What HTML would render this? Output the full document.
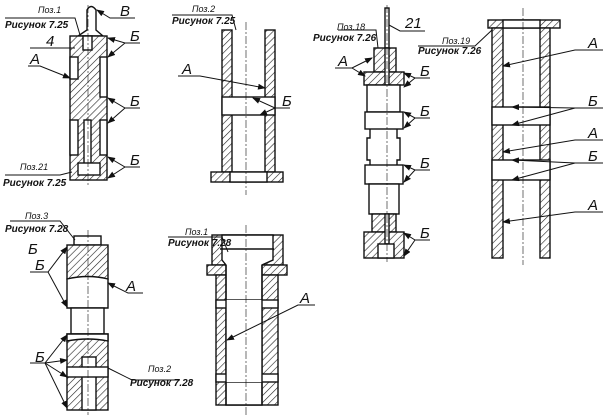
<!DOCTYPE html>
<html><head><meta charset="utf-8"><style>
body{margin:0;background:#fff}
svg{display:block}
text{font-family:"Liberation Sans",sans-serif;font-style:italic;fill:#111}
.t{font-size:15px}
.s{font-size:9px}
.b{font-size:10px;font-weight:bold}
</style></head><body>
<svg width="605" height="419" viewBox="0 0 605 419" xmlns="http://www.w3.org/2000/svg">
<defs>
<pattern id="h" width="5" height="5" patternUnits="userSpaceOnUse" patternTransform="rotate(45)">
<rect width="5" height="5" fill="#fff"/><line x1="0" y1="0" x2="0" y2="5" stroke="#222" stroke-width="1.2"/></pattern>
<marker id="a" markerWidth="8" markerHeight="6" refX="7" refY="3" orient="auto" markerUnits="userSpaceOnUse"><path d="M0,0 L8,3 L0,6z" fill="#111"/></marker>
</defs>
<g stroke="#111" stroke-width="1.4" fill="none">
<!-- Fig 1 -->
<path d="M87,30 L87,10 Q91,3 96,10 L96,30 L103,36 L78,36z" fill="#fff"/>
<rect x="70" y="36" width="37" height="144" fill="url(#h)"/>
<rect x="70" y="57" width="8" height="22" fill="#fff"/>
<rect x="100" y="57" width="7" height="40" fill="#fff"/>
<rect x="70" y="120" width="8" height="35" fill="#fff"/>
<rect x="100" y="120" width="7" height="35" fill="#fff"/>
<rect x="83" y="36" width="9" height="14" fill="#fff"/>
<rect x="84" y="120" width="7" height="45" fill="#fff"/>
<rect x="78" y="163" width="22" height="12" fill="#fff"/>
<line x1="88" y1="5" x2="88" y2="185" stroke-dasharray="8,2,2,2" stroke-width="0.6"/>
<!-- Fig 2 -->
<rect x="222" y="30" width="10" height="142" fill="url(#h)"/>
<rect x="265" y="30" width="10" height="142" fill="url(#h)"/>
<rect x="222" y="97" width="53" height="18" fill="#fff"/>
<rect x="211" y="172" width="72" height="10" fill="url(#h)"/>
<rect x="230" y="172" width="37" height="10" fill="#fff"/>
<line x1="246" y1="22" x2="246" y2="195" stroke-dasharray="8,2,2,2" stroke-width="0.6"/>
<!-- Fig 3 -->
<rect x="385" y="8" width="4" height="64" fill="#fff"/>
<rect x="374" y="48" width="22" height="24" fill="url(#h)"/>
<rect x="364" y="72" width="40" height="13" fill="url(#h)"/>
<rect x="385" y="48" width="4" height="37" fill="#fff"/>
<rect x="367" y="85" width="33" height="27" fill="#fff"/>
<rect x="365" y="112" width="38" height="17" fill="#fff"/>
<path d="M370,129 L370,138 L367,138 L367,160 L370,160 L370,165 M397,129 L397,138 L400,138 L400,160 L397,160 L397,165" />
<rect x="365" y="165" width="38" height="19" fill="#fff"/>
<rect x="369" y="184" width="30" height="30" fill="#fff"/>
<rect x="372" y="214" width="24" height="18" fill="url(#h)"/>
<rect x="364" y="232" width="40" height="26" fill="url(#h)"/>
<rect x="385" y="214" width="4" height="30" fill="#fff"/>
<rect x="378" y="244" width="16" height="14" fill="#fff"/>
<line x1="387" y1="5" x2="387" y2="262" stroke-dasharray="8,2,2,2" stroke-width="0.6"/>
<!-- Fig 4 -->
<rect x="488" y="20" width="72" height="8" fill="url(#h)"/>
<rect x="503" y="20" width="37" height="8" fill="#fff"/>
<rect x="492" y="28" width="11" height="230" fill="url(#h)"/>
<rect x="540" y="28" width="10" height="230" fill="url(#h)"/>
<rect x="492" y="107" width="58" height="18" fill="#fff"/>
<rect x="492" y="160" width="58" height="20" fill="#fff"/>
<line x1="523" y1="8" x2="523" y2="265" stroke-dasharray="8,2,2,2" stroke-width="0.6"/>
<!-- Fig 5 -->
<rect x="74" y="236" width="27" height="9" fill="#fff"/>
<rect x="67" y="245" width="41" height="34" fill="url(#h)"/>
<path d="M67,279 Q88,274 108,279 L108,308 L67,308z" fill="#fff"/>
<rect x="71" y="308" width="33" height="26" fill="#fff"/>
<rect x="67" y="334" width="41" height="76" fill="url(#h)"/>
<path d="M67,334 L108,334 L108,341 Q88,337 67,341z" fill="#fff"/>
<rect x="82" y="357" width="14" height="53" fill="#fff"/>
<rect x="67" y="367" width="41" height="10" fill="#fff"/>
<line x1="88" y1="230" x2="88" y2="415" stroke-dasharray="8,2,2,2" stroke-width="0.6"/>
<!-- Fig 6 -->
<rect x="212" y="235" width="71" height="30" fill="url(#h)"/>
<rect x="207" y="265" width="80" height="10" fill="url(#h)"/>
<rect x="216" y="275" width="62" height="130" fill="url(#h)"/>
<path d="M222,235 L273,235 L273,260 L262,265 L262,405 L226,405 L226,265 L222,260z" fill="#fff"/>
<rect x="216" y="300" width="62" height="8" fill="#fff"/>
<rect x="216" y="374" width="62" height="8" fill="#fff"/>
<rect x="226" y="300" width="36" height="82" fill="#fff" stroke="none"/>
<line x1="226" y1="265" x2="226" y2="405"/><line x1="262" y1="265" x2="262" y2="405"/>
<line x1="220" y1="249" x2="274" y2="249"/>
<line x1="246" y1="225" x2="246" y2="415" stroke-dasharray="8,2,2,2" stroke-width="0.6"/>
</g>
<!-- leaders -->
<g stroke="#111" stroke-width="1" fill="none">
<path d="M5,18 H75 L80,35"/><path d="M135,18 H110 L97,10" marker-end="url(#a)"/>
<path d="M30,48 H75"/><path d="M28,66 H40 L70,78" marker-end="url(#a)"/>
<path d="M140,43 H125 L108,38" marker-end="url(#a)"/><path d="M125,43 L108,57" marker-end="url(#a)"/>
<path d="M140,108 H125 L108,98" marker-end="url(#a)"/><path d="M125,108 L108,123" marker-end="url(#a)"/>
<path d="M140,167 H125 L108,157" marker-end="url(#a)"/><path d="M125,167 L108,178" marker-end="url(#a)"/>
<path d="M5,175 H60 L72,172"/>
<path d="M172,15 H232 L236,30"/>
<path d="M178,76 H200 L265,88" marker-end="url(#a)"/>
<path d="M290,108 H275 L253,98" marker-end="url(#a)"/><path d="M275,108 L260,115" marker-end="url(#a)"/>
<path d="M338,30 H376 L378,48"/><path d="M425,31 H400 L389,25"/>
<path d="M335,68 H352 L372,58" marker-end="url(#a)"/><path d="M352,68 L365,76" marker-end="url(#a)"/>
<path d="M430,78 H415 L404,73" marker-end="url(#a)"/><path d="M415,78 L404,87" marker-end="url(#a)"/>
<path d="M430,118 H415 L404,112" marker-end="url(#a)"/><path d="M415,118 L404,128" marker-end="url(#a)"/>
<path d="M430,170 H415 L404,165" marker-end="url(#a)"/><path d="M415,170 L404,182" marker-end="url(#a)"/>
<path d="M430,240 H415 L404,233" marker-end="url(#a)"/><path d="M415,240 L404,256" marker-end="url(#a)"/>
<path d="M418,46 H475 L492,30"/>
<path d="M603,50 H575 L503,66" marker-end="url(#a)"/>
<path d="M603,108 H575 L512,107" marker-end="url(#a)"/><path d="M575,108 L512,125" marker-end="url(#a)"/>
<path d="M603,140 H575 L503,152" marker-end="url(#a)"/>
<path d="M603,163 H575 L512,160" marker-end="url(#a)"/><path d="M575,163 L512,180" marker-end="url(#a)"/>
<path d="M603,212 H575 L503,222" marker-end="url(#a)"/>
<path d="M10,221 H60 L75,240"/>
<path d="M30,272 H48 L67,247" marker-end="url(#a)"/><path d="M48,272 L67,307" marker-end="url(#a)"/>
<path d="M143,293 H128 L108,283" marker-end="url(#a)"/>
<path d="M30,363 H45 L67,335" marker-end="url(#a)"/><path d="M45,363 L67,360" marker-end="url(#a)"/>
<path d="M45,363 L67,377" marker-end="url(#a)"/><path d="M45,363 L67,408" marker-end="url(#a)"/>
<path d="M180,380 H132 L108,368"/>
<path d="M168,237 H222 L228,252"/>
<path d="M315,305 H298 L227,340" marker-end="url(#a)"/>
</g>
<g>
<text class="s" x="38" y="13">Поз.1</text><text class="b" x="5" y="28">Рисунок 7.25</text>
<text class="t" x="120" y="16">В</text><text class="t" x="46" y="46">4</text>
<text class="t" x="30" y="64">А</text>
<text class="t" x="130" y="41">Б</text><text class="t" x="130" y="106">Б</text><text class="t" x="130" y="165">Б</text>
<text class="s" x="20" y="170">Поз.21</text><text class="b" x="3" y="186">Рисунок 7.25</text>
<text class="s" x="192" y="12">Поз.2</text><text class="b" x="172" y="24">Рисунок 7.25</text>
<text class="t" x="182" y="74">А</text><text class="t" x="282" y="106">Б</text>
<text class="s" x="337" y="30">Поз.18</text><text class="b" x="313" y="41">Рисунок 7.26</text>
<text class="t" x="405" y="28">21</text><text class="t" x="338" y="66">А</text>
<text class="t" x="420" y="76">Б</text><text class="t" x="420" y="116">Б</text><text class="t" x="420" y="168">Б</text><text class="t" x="420" y="238">Б</text>
<text class="s" x="442" y="44">Поз.19</text><text class="b" x="418" y="54">Рисунок 7.26</text>
<text class="t" x="588" y="48">А</text><text class="t" x="588" y="106">Б</text><text class="t" x="588" y="138">А</text><text class="t" x="588" y="161">Б</text><text class="t" x="588" y="210">А</text>
<text class="s" x="25" y="219">Поз.3</text><text class="b" x="5" y="232">Рисунок 7.28</text>
<text class="t" x="28" y="254">Б</text><text class="t" x="35" y="270">Б</text><text class="t" x="126" y="291">А</text>
<text class="t" x="35" y="362">Б</text>
<text class="s" x="148" y="372">Поз.2</text><text class="b" x="130" y="386">Рисунок 7.28</text>
<text class="s" x="185" y="235">Поз.1</text><text class="b" x="168" y="246">Рисунок 7.28</text>
<text class="t" x="300" y="303">А</text>
</g>
</svg>
</body></html>
